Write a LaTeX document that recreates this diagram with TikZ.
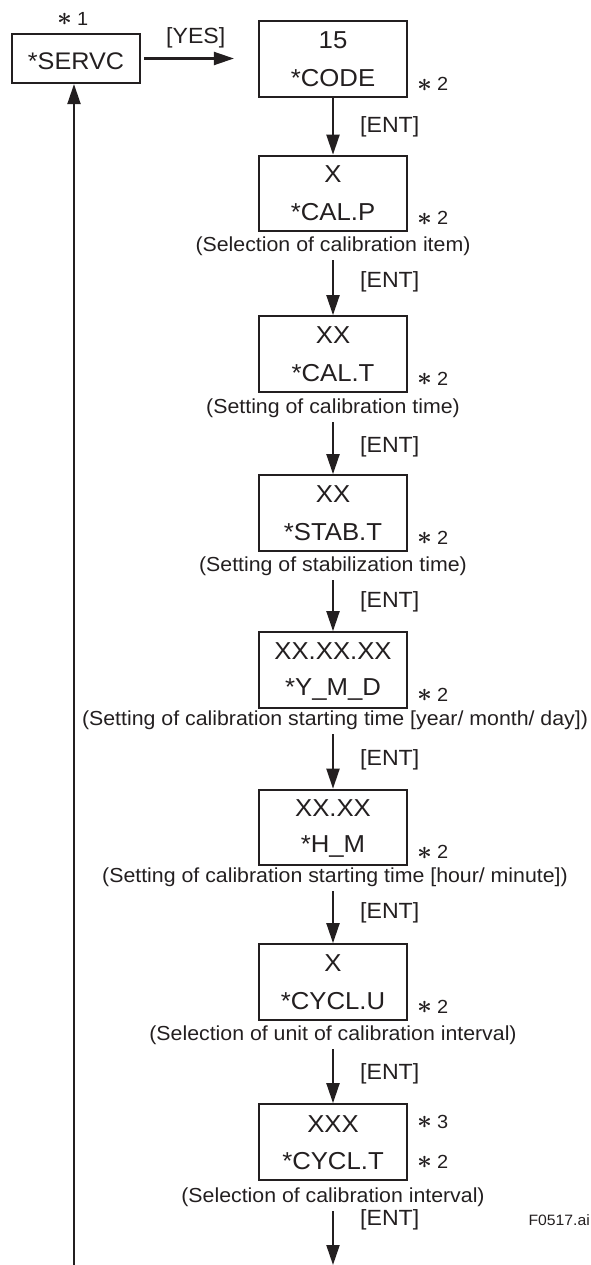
\documentclass[tikz,border=0pt]{standalone}
\usepackage{fontspec}
\setmainfont{Liberation Sans}[FakeStretch=1.05]
\usetikzlibrary{arrows.meta}
\definecolor{ink}{RGB}{35,31,32}
\begin{document}
\begin{tikzpicture}[x=1pt,y=-1pt,
  every node/.style={text=ink},
  dispbox/.style={draw=ink,line width=2.2pt,minimum width=148pt,minimum height=75.5pt,inner sep=0pt},
  valtext/.style={font=\fontsize{24.5}{24.5}\selectfont,inner sep=0pt},
  captext/.style={font=\fontsize{20.3}{20.3}\selectfont,inner xsep=0pt,inner ysep=4.5pt},
  keylbl/.style={font=\fontsize{22}{22}\selectfont,anchor=west,inner sep=0pt},
  notelbl/.style={font=\fontsize{19}{19}\selectfont,anchor=west,inner sep=0pt},
  arr/.style={draw=ink,line width=2.1pt,-{Triangle[length=20pt,width=13pt]}}
]
\useasboundingbox (0,0) rectangle (590,1265);
\newcommand{\starn}[1]{\raisebox{-0.5pt}{\scalebox{1.5}{\boldmath$\ast$}}\hspace{5pt}#1}

% SERVC
\node[draw=ink,line width=2.2pt,minimum width=128pt,minimum height=49pt,inner sep=0pt] (servc) at (76,58.5) {};
\node[valtext,font=\fontsize{24}{24}\selectfont] (servct) at (76,61) {*SERVC};
\node[notelbl] (n1) at (57,19) {\starn{1}};

% boxes
\node[dispbox] (b1) at (333,59) {};
\node[valtext] (b1a) at (333,40) {15};
\node[valtext] (b1b) at (333,78) {*CODE};
\node[notelbl] (s1) at (417,84.5) {\starn{2}};

\node[dispbox] (b2) at (333,193.5) {};
\node[valtext] (b2a) at (333,174.5) {X};
\node[valtext] (b2b) at (333,212.5) {*CAL.P};
\node[notelbl] (s2) at (417,218.5) {\starn{2}};
\node[captext] (c2) at (333,246) {(Selection of calibration item)};

\node[dispbox] (b3) at (333,354) {};
\node[valtext] (b3a) at (333,335) {XX};
\node[valtext] (b3b) at (333,373) {*CAL.T};
\node[notelbl] (s3) at (417,379) {\starn{2}};
\node[captext] (c3) at (333,408) {(Setting of calibration time)};

\node[dispbox] (b4) at (333,513) {};
\node[valtext] (b4a) at (333,494) {XX};
\node[valtext] (b4b) at (333,532) {*STAB.T};
\node[notelbl] (s4) at (417,538) {\starn{2}};
\node[captext] (c4) at (333,566) {(Setting of stabilization time)};

\node[dispbox] (b5) at (333,670) {};
\node[valtext] (b5a) at (333,651) {XX.XX.XX};
\node[valtext] (b5b) at (333,689) {*Y\_M\_D};
\node[notelbl] (s5) at (417,695) {\starn{2}};
\node[captext] (c5) at (335,720) {(Setting of calibration starting time [year/ month/ day])};

\node[dispbox] (b6) at (333,827.5) {};
\node[valtext] (b6a) at (333,808.5) {XX.XX};
\node[valtext] (b6b) at (333,846.5) {*H\_M};
\node[notelbl] (s6) at (417,852.5) {\starn{2}};
\node[captext] (c6) at (335,877) {(Setting of calibration starting time [hour/ minute])};

\node[dispbox] (b7) at (333,982) {};
\node[valtext] (b7a) at (333,963) {X};
\node[valtext] (b7b) at (333,1001) {*CYCL.U};
\node[notelbl] (s7) at (417,1007) {\starn{2}};
\node[captext] (c7) at (333,1035) {(Selection of unit of calibration interval)};

\node[dispbox] (b8) at (333,1142) {};
\node[valtext] (b8a) at (333,1124) {XXX};
\node[valtext] (b8b) at (333,1161) {*CYCL.T};
\node[notelbl] (s8a) at (417,1122) {\starn{3}};
\node[notelbl] (s8b) at (417,1162) {\starn{2}};
\node[captext] (c8) at (333,1197) {(Selection of calibration interval)};

\node[font=\fontsize{15}{15}\selectfont,anchor=east,inner sep=0pt] (fig) at (590,1220) {F0517.ai};

% labels
\node[keylbl] (yes) at (166,38) {[YES]};
\node[keylbl] (e1) at (360,127) {[ENT]};
\node[keylbl] (e2) at (360,282) {[ENT]};
\node[keylbl] (e3) at (360,447) {[ENT]};
\node[keylbl] (e4) at (360,602) {[ENT]};
\node[keylbl] (e5) at (360,760) {[ENT]};
\node[keylbl] (e6) at (360,913) {[ENT]};
\node[keylbl] (e7) at (360,1074) {[ENT]};
\node[keylbl] (e8) at (360,1220) {[ENT]};

% connectors
\draw[arr,shorten <=3pt,shorten >=24pt] (servc.east) -- (servc.east -| b1.west);
\draw[arr] (b1.south) -- (b2.north);
\draw[arr] (c2.south) -- (b3.north);
\draw[arr] (c3.south) -- (b4.north);
\draw[arr] (c4.south) -- (b5.north);
\draw[arr] (c5.south -| b5.south) -- (b6.north);
\draw[arr] (c6.south -| b6.south) -- (b7.north);
\draw[arr] (c7.south) -- (b8.north);
\coordinate (endp) at (333,1265);
\draw[arr] (c8.south) -- (endp);
\coordinate (ret) at (74,1265);
\draw[arr] (ret) -- (ret |- servc.south);
\end{tikzpicture}
\end{document}
